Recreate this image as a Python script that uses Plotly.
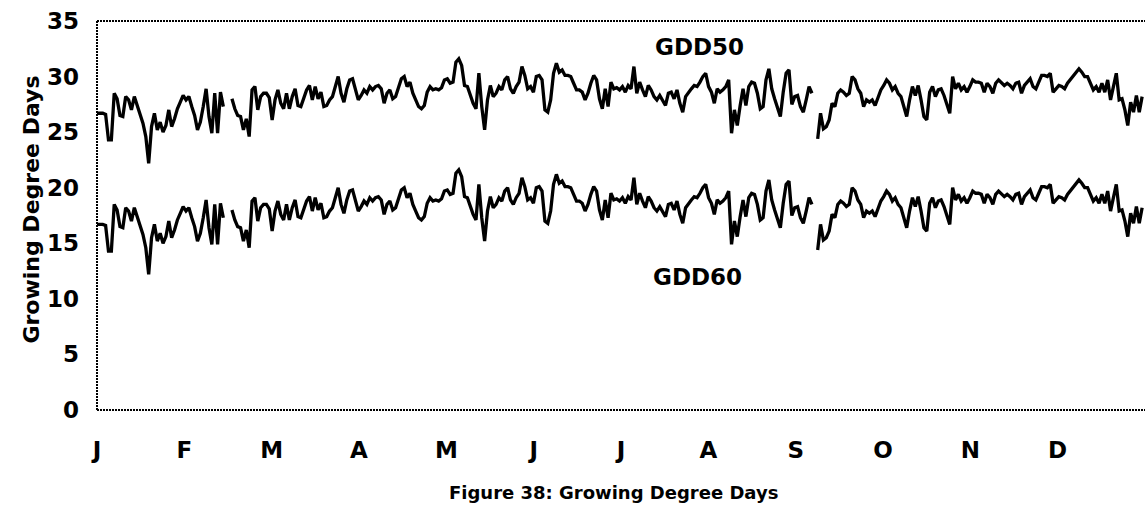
import plotly.graph_objects as go

# Daily growing degree days, one list per month (None = missing day)
months = ["J", "F", "M", "A", "M", "J", "J", "A", "S", "O", "N", "D"]

gdd50_jan = [26.7, 26.7, 26.7, 26.6, 24.3, 24.3, 28.5, 28.0, 26.5, 26.4, 28.2, 27.9, 27.0, 28.2, 27.4, 26.4,
             25.8, 24.6, 22.2, 25.5, 26.7, 25.2, 25.9, 25.0, 25.6, 27.0, 25.5, 26.2, 27.1, 27.7, 28.3]
gdd50_feb = [27.9, 28.2, 27.3, 26.5, 25.2, 25.9, 27.3, 28.9, 26.4, 24.9, 28.5, 24.9, 28.6, 27.3, None, None,
             28.0, 27.1, 26.5, 26.4, 25.2, 26.2, 24.6, 28.8, 29.1, 27.0, 28.2, 28.5]
gdd50_mar = [28.5, 28.1, 26.1, 27.9, 28.8, 27.6, 27.1, 28.5, 27.1, 28.2, 28.9, 27.4, 27.3, 28.0, 28.8, 29.2,
             27.9, 29.1, 28.0, 28.6, 27.3, 27.4, 27.9, 28.2, 29.1, 30.0, 28.5, 27.7, 28.9, 29.7, 29.8]
gdd50_apr = [28.8, 27.9, 28.3, 28.8, 28.5, 29.1, 28.8, 29.1, 29.2, 28.9, 27.6, 28.5, 28.8, 28.0, 28.2, 28.9,
             29.8, 30.0, 29.1, 29.5, 28.5, 27.9, 27.3, 27.1, 27.4, 28.6, 29.1, 28.8, 28.9, 28.8]
gdd50_may = [29.0, 29.7, 29.8, 29.4, 29.5, 31.3, 31.6, 31.0, 29.2, 29.1, 28.3, 27.6, 27.1, 30.3, 27.3, 25.2,
             27.9, 29.2, 28.2, 28.5, 29.1, 28.8, 29.7, 30.0, 28.9, 28.5, 29.1, 29.5, 30.9, 30.1, 28.9]
gdd50_jun = [29.1, 28.6, 30.0, 30.1, 29.7, 27.0, 26.8, 27.9, 30.3, 31.2, 30.4, 30.6, 30.1, 30.1, 30.0, 29.4,
             28.8, 28.8, 28.6, 27.9, 28.5, 29.4, 30.1, 29.7, 28.0, 27.1, 28.9, 27.3, 29.5, 28.9]
gdd50_jul = [29.0, 28.8, 29.1, 28.6, 29.2, 28.9, 30.9, 28.5, 29.5, 28.8, 28.2, 29.2, 28.8, 28.2, 27.9, 28.3,
             27.9, 27.4, 28.5, 28.6, 28.0, 28.8, 27.6, 26.8, 28.2, 28.6, 28.9, 29.2, 29.1, 29.5, 30.0]
gdd50_aug = [30.3, 29.1, 28.6, 27.6, 28.9, 28.6, 28.8, 29.1, 29.7, 24.9, 27.0, 25.6, 27.4, 28.9, 27.4, 29.1,
             29.5, 29.4, 28.5, 27.1, 27.3, 29.7, 30.7, 28.9, 28.0, 27.3, 26.4, 28.6, 30.3, 30.6, 27.5]
gdd50_sep = [28.2, 28.3, 27.3, 26.8, 27.9, 29.1, 28.5, None, 24.4, 26.7, 25.3, 25.5, 26.1, 27.6, 27.3, 28.5,
             28.8, 28.6, 28.3, 28.5, 30.0, 29.7, 28.9, 28.5, 27.3, 27.9, 27.7, 27.9, 27.4, 28.2]
gdd50_oct = [28.8, 29.2, 29.7, 29.4, 28.8, 29.1, 28.5, 28.2, 27.4, 26.4, 27.9, 29.1, 28.3, 29.2, 27.9, 26.4,
             26.1, 28.6, 29.1, 28.2, 28.8, 28.9, 28.3, 27.6, 26.7, 30.0, 28.9, 29.4, 28.8, 29.1, 28.6]
gdd50_nov = [29.1, 29.7, 29.5, 29.5, 29.4, 28.6, 29.4, 29.1, 28.5, 29.4, 29.7, 29.4, 29.2, 29.4, 29.2, 28.9,
             29.4, 29.5, 28.5, 29.2, 29.5, 29.8, 29.1, 28.9, 29.5, 30.1, 30.1, 30.0, 30.3, 28.6]
gdd50_dec = [28.9, 29.2, 29.1, 28.9, 29.4, 29.7, 30.0, 30.4, 30.7, 30.4, 30.0, 30.0, 29.4, 28.8, 29.1, 28.6,
             29.4, 28.6, 29.7, 27.9, 29.1, 30.3, 27.9, 28.0, 27.0, 25.6, 27.7, 26.8, 28.3, 26.8, 28.2]

gdd60_jan = [16.7, 16.7, 16.7, 16.6, 14.3, 14.3, 18.5, 18.0, 16.5, 16.4, 18.2, 17.9, 17.0, 18.2, 17.4, 16.4,
             15.8, 14.6, 12.2, 15.5, 16.7, 15.2, 15.9, 15.0, 15.6, 17.0, 15.5, 16.2, 17.1, 17.7, 18.3]
gdd60_feb = [17.9, 18.2, 17.3, 16.5, 15.2, 15.9, 17.3, 18.9, 16.4, 14.9, 18.5, 14.9, 18.6, 17.3, None, None,
             18.0, 17.1, 16.5, 16.4, 15.2, 16.2, 14.6, 18.8, 19.1, 17.0, 18.2, 18.5]
gdd60_mar = [18.5, 18.1, 16.1, 17.9, 18.8, 17.6, 17.1, 18.5, 17.1, 18.2, 18.9, 17.4, 17.3, 18.0, 18.8, 19.2,
             17.9, 19.1, 18.0, 18.6, 17.3, 17.4, 17.9, 18.2, 19.1, 20.0, 18.5, 17.7, 18.9, 19.7, 19.8]
gdd60_apr = [18.8, 17.9, 18.3, 18.8, 18.5, 19.1, 18.8, 19.1, 19.2, 18.9, 17.6, 18.5, 18.8, 18.0, 18.2, 18.9,
             19.8, 20.0, 19.1, 19.5, 18.5, 17.9, 17.3, 17.1, 17.4, 18.6, 19.1, 18.8, 18.9, 18.8]
gdd60_may = [19.0, 19.7, 19.8, 19.4, 19.5, 21.3, 21.6, 21.0, 19.2, 19.1, 18.3, 17.6, 17.1, 20.3, 17.3, 15.2,
             17.9, 19.2, 18.2, 18.5, 19.1, 18.8, 19.7, 20.0, 18.9, 18.5, 19.1, 19.5, 20.9, 20.1, 18.9]
gdd60_jun = [19.1, 18.6, 20.0, 20.1, 19.7, 17.0, 16.8, 17.9, 20.3, 21.2, 20.4, 20.6, 20.1, 20.1, 20.0, 19.4,
             18.8, 18.8, 18.6, 17.9, 18.5, 19.4, 20.1, 19.7, 18.0, 17.1, 18.9, 17.3, 19.5, 18.9]
gdd60_jul = [19.0, 18.8, 19.1, 18.6, 19.2, 18.9, 20.9, 18.5, 19.5, 18.8, 18.2, 19.2, 18.8, 18.2, 17.9, 18.3,
             17.9, 17.4, 18.5, 18.6, 18.0, 18.8, 17.6, 16.8, 18.2, 18.6, 18.9, 19.2, 19.1, 19.5, 20.0]
gdd60_aug = [20.3, 19.1, 18.6, 17.6, 18.9, 18.6, 18.8, 19.1, 19.7, 14.9, 17.0, 15.6, 17.4, 18.9, 17.4, 19.1,
             19.5, 19.4, 18.5, 17.1, 17.3, 19.7, 20.7, 18.9, 18.0, 17.3, 16.4, 18.6, 20.3, 20.6, 17.5]
gdd60_sep = [18.2, 18.3, 17.3, 16.8, 17.9, 19.1, 18.5, None, 14.4, 16.7, 15.3, 15.5, 16.1, 17.6, 17.3, 18.5,
             18.8, 18.6, 18.3, 18.5, 20.0, 19.7, 18.9, 18.5, 17.3, 17.9, 17.7, 17.9, 17.4, 18.2]
gdd60_oct = [18.8, 19.2, 19.7, 19.4, 18.8, 19.1, 18.5, 18.2, 17.4, 16.4, 17.9, 19.1, 18.3, 19.2, 17.9, 16.4,
             16.1, 18.6, 19.1, 18.2, 18.8, 18.9, 18.3, 17.6, 16.7, 20.0, 18.9, 19.4, 18.8, 19.1, 18.6]
gdd60_nov = [19.1, 19.7, 19.5, 19.5, 19.4, 18.6, 19.4, 19.1, 18.5, 19.4, 19.7, 19.4, 19.2, 19.4, 19.2, 18.9,
             19.4, 19.5, 18.5, 19.2, 19.5, 19.8, 19.1, 18.9, 19.5, 20.1, 20.1, 20.0, 20.3, 18.6]
gdd60_dec = [18.9, 19.2, 19.1, 18.9, 19.4, 19.7, 20.0, 20.4, 20.7, 20.4, 20.0, 20.0, 19.4, 18.8, 19.1, 18.6,
             19.4, 18.6, 19.7, 17.9, 19.1, 20.3, 17.9, 18.0, 17.0, 15.6, 17.7, 16.8, 18.3, 16.8, 18.2]

gdd50 = (gdd50_jan + gdd50_feb + gdd50_mar + gdd50_apr + gdd50_may + gdd50_jun +
         gdd50_jul + gdd50_aug + gdd50_sep + gdd50_oct + gdd50_nov + gdd50_dec)
gdd60 = (gdd60_jan + gdd60_feb + gdd60_mar + gdd60_apr + gdd60_may + gdd60_jun +
         gdd60_jul + gdd60_aug + gdd60_sep + gdd60_oct + gdd60_nov + gdd60_dec)
days = list(range(1, len(gdd50) + 1))

# month labels evenly spaced over the year
n_days = len(days)
month_pos = [1 + k * n_days / 12 for k in range(12)]

FONT = "DejaVu Sans"
line_style = dict(color="black", width=3.3)

fig = go.Figure()
fig.add_trace(go.Scatter(x=days, y=gdd50, mode="lines", line=line_style,
                         connectgaps=False, name="GDD50", hoverinfo="x+y"))
fig.add_trace(go.Scatter(x=days, y=gdd60, mode="lines", line=line_style,
                         connectgaps=False, name="GDD60", hoverinfo="x+y"))

fig.update_layout(
    width=1145, height=506,
    margin=dict(l=97, r=0, t=21, b=96),
    paper_bgcolor="white", plot_bgcolor="white",
    showlegend=False,
    font=dict(family=FONT, color="black"),
)
fig.update_xaxes(
    range=[1, n_days + 1], tickvals=month_pos, ticktext=months,
    showgrid=False, zeroline=False, showline=False, ticks="",
    tickfont=dict(family=FONT, size=23, weight="bold", color="black"),
    ticklabelstandoff=24,
)
fig.update_yaxes(
    range=[0, 35], tickvals=[0, 5, 10, 15, 20, 25, 30, 35],
    showgrid=False, zeroline=False, showline=False, ticks="",
    tickfont=dict(family=FONT, size=23, weight="bold", color="black"),
    ticklabelstandoff=17,
)

# dotted frame on the top, left and bottom sides
frame = dict(type="line", xref="paper", yref="paper",
             line=dict(color="black", width=2, dash="2px,1px"))
fig.add_shape(x0=0, x1=1, y0=1, y1=1, **frame)
fig.add_shape(x0=0, x1=0, y0=0, y1=1, **frame)
fig.add_shape(x0=0, x1=1, y0=0, y1=0, **frame)

bold23 = dict(family=FONT, size=23, weight="bold", color="black")
fig.add_annotation(x=211, y=32.7, text="GDD50", showarrow=False, font=bold23)
fig.add_annotation(x=210, y=11.95, text="GDD60", showarrow=False, font=bold23)
fig.add_annotation(xref="paper", yref="paper", x=-0.0763, y=0.514,
                   text="Growing Degree Days", textangle=-90, showarrow=False,
                   font=dict(family=FONT, size=22, weight="bold", color="black"))
fig.add_annotation(xref="paper", yref="paper", x=0.4924, y=-0.243,
                   text="Figure 38: Growing Degree Days", showarrow=False,
                   font=dict(family=FONT, size=18, weight="bold", color="black"))

fig.write_html("out.html")
